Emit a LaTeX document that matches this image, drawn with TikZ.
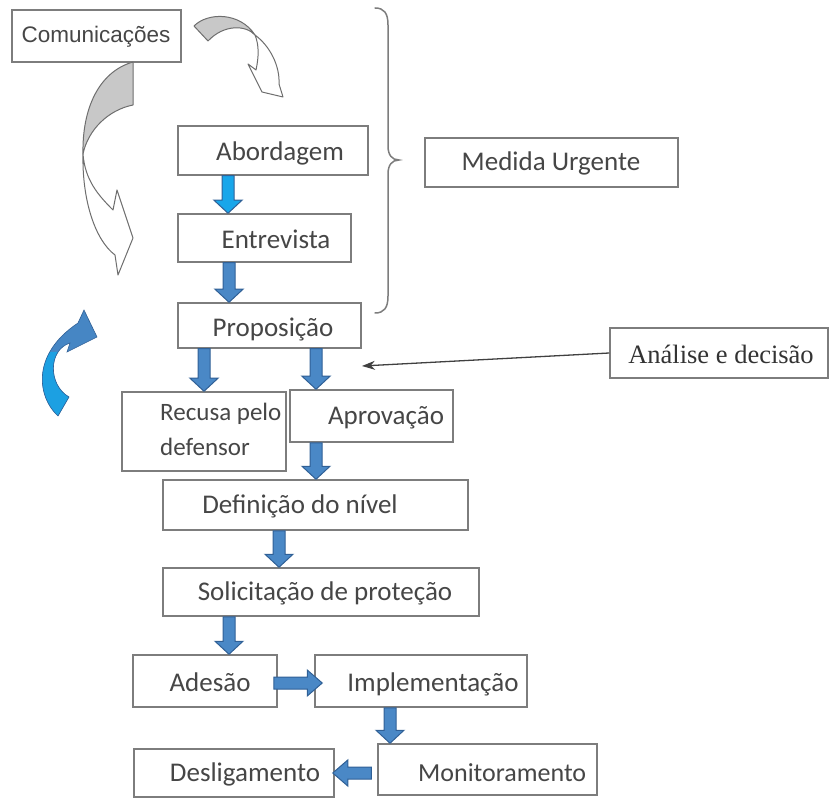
\documentclass[tikz,border=0pt]{standalone}
\usepackage{fontspec}
\setmainfont{Carlito}
\newfontfamily\arialf{Liberation Sans}
\newfontfamily\timesf{Liberation Serif}
\usetikzlibrary{calc,fit,arrows.meta}
\definecolor{bord}{RGB}{125,125,125}
\definecolor{txtc}{RGB}{70,70,70}
\definecolor{blkf}{RGB}{74,136,198}
\definecolor{blkd}{RGB}{48,96,150}
\definecolor{cyanf}{RGB}{24,166,234}
\definecolor{greyf}{RGB}{200,200,200}
\definecolor{curvd}{RGB}{110,110,110}
\definecolor{bluedark}{RGB}{70,134,196}
\definecolor{bluelight}{RGB}{28,160,226}
\tikzset{
  box/.style={draw=bord, line width=1.5pt, fill=white, inner sep=0pt},
  lbl/.style={text=txtc, font=\fontsize{27}{32}\selectfont, inner sep=0pt},
  blk/.style={fill=blkf, draw=blkd, line width=1pt, line join=miter},
  blkc/.style={blk, fill=cyanf},
  curv/.style={draw=curvd, line width=1pt, line join=round},
}
\newcommand\bx[5]{\node[box, fit={(#2,#3)(#4,#5)}] (#1) {};}
\newcommand\vblk[4][blk]{\draw[#1] let \p1=(#3.south), \p2=(#4.north), \p3=(#2,0) in
  (\x3-6pt,\y1) -- (\x3+6pt,\y1) -- (\x3+6pt,\y2+13pt) -- (\x3+14pt,\y2+13pt) -- (\x3,\y2)
  -- (\x3-14pt,\y2+13pt) -- (\x3-6pt,\y2+13pt) -- cycle;}
\newcommand\hblk[5][blk]{\draw[#1] let \p1=(#3), \p2=(#4), \p3=(0,#2), \n1={#5*15} in
  (\x1,\y3-6pt) -- (\x2-\n1 pt,\y3-6pt) -- (\x2-\n1 pt,\y3-13pt) -- (\x2,\y3)
  -- (\x2-\n1 pt,\y3+13pt) -- (\x2-\n1 pt,\y3+6pt) -- (\x1,\y3+6pt) -- cycle;}
\begin{document}
\begin{tikzpicture}[x=1pt,y=-1pt]
\useasboundingbox (0,0) rectangle (830,799);

% boxes
\bx{comun}{12}{10}{181}{62}
\bx{abord}{178}{126}{368}{175}
\bx{entrev}{178}{214}{351}{262}
\bx{propos}{178}{303}{361}{348}
\bx{medida}{425}{138}{678}{187}
\bx{analise}{610}{328}{828}{378}
\bx{recusa}{122}{392}{286}{471}
\bx{aprov}{290}{390}{453}{442}
\bx{defin}{163}{480}{468}{530}
\bx{solic}{163}{568}{479}{616}
\bx{adesao}{133}{655}{277}{707}
\bx{implem}{315}{655}{527}{707}
\bx{monit}{378}{744}{597}{795}
\bx{deslig}{134}{749}{334}{797}

% texts
\node[lbl, font=\arialf\fontsize{22.5}{27}\selectfont] (tcomun) at (96,37) {Comunicações};
\node[lbl] (tabord) at (280,153) {Abordagem};
\node[lbl] (tentrev) at (276,239) {Entrevista};
\node[lbl] (tpropos) at (273,329) {Proposição};
\node[lbl] (tmedida) at (551,163) {Medida Urgente};
\node[lbl, font=\timesf\fontsize{26.5}{30}\selectfont, text=black!80] (tanalise) at (721,354) {Análise e decisão};
\node[lbl, font=\fontsize{25}{35}\selectfont, align=left, anchor=north west] (trecusa) at (160,403) {Recusa pelo\\defensor};
\node[lbl] (taprov) at (386,418) {Aprovação};
\node[lbl] (tdefin) at (300,506) {Definição do nível};
\node[lbl] (tsolic) at (325,593) {Solicitação de proteção};
\node[lbl] (tadesao) at (210,682) {Adesão};
\node[lbl] (timplem) at (433,684) {Implementação};
\node[lbl, font=\fontsize{26}{31}\selectfont, anchor=west] (tmonit) at (418,773) {Monitoramento};
\node[lbl] (tdeslig) at (245,774) {Desligamento};

% block arrows
\vblk[blkc]{228}{abord}{entrev}
\vblk{229}{entrev}{propos}
\vblk{204}{propos}{recusa}
\vblk{316}{propos}{aprov}
\vblk{316}{aprov}{defin}
\vblk{279}{defin}{solic}
\vblk{229}{solic}{adesao}
\vblk{390}{implem}{monit}
\coordinate (h1s) at ($(adesao.east)+(-4,0)$);
\coordinate (h1e) at ($(implem.west)+(8,0)$);
\hblk{683}{h1s}{h1e}{1}
\coordinate (h2s) at ($(monit.west)+(-6,0)$);
\coordinate (h2e) at ($(deslig.east)+(-2,0)$);
\hblk{773}{h2s}{h2e}{-1}

% arrow from Analise
\coordinate (aim) at (362,366);
\draw[line width=1.3pt, black!75, -{Stealth[length=13pt,width=9pt]}] (analise.west) -- (aim);

% brace
\draw[line width=1.5pt, bord, line cap=round]
  (375,8) .. controls (384,8) and (388,13) .. (388,25) -- (388,146)
  .. controls (388,155) and (392,160) .. (399,160)
  .. controls (392,160) and (388,165) .. (388,174) -- (388,296)
  .. controls (388,308) and (384,313) .. (375,313);

% top curved arrow
\filldraw[curv, fill=greyf] (194,26) .. controls (208,12) and (240,12) .. (255,35)
  .. controls (246,25) and (224,24) .. (208,41) -- cycle;
\filldraw[curv, fill=white] (255,35) .. controls (270,46) and (280,66) .. (279,84)
  -- (283,97) -- (262,92) -- (248,64) -- (256,70)
  .. controls (259,56) and (259,45) .. (255,35) -- cycle;

% left big curved arrow
\filldraw[curv, fill=greyf] (133,62) -- (133,105)
  .. controls (108,110) and (88,130) .. (83,154)
  .. controls (82,110) and (98,72) .. (133,62) -- cycle;
\filldraw[curv, fill=white] (83,154) .. controls (82,200) and (95,240) .. (115,255)
  -- (118,275) -- (133,238) -- (117,190) -- (113,210)
  .. controls (98,195) and (85,180) .. (83,154) -- cycle;

% blue curved arrow
\fill[bluedark] (58,416) .. controls (38,398) and (30,355) .. (78,323) -- (84,310)
  -- (97,337) -- (67,352) -- (70,343) .. controls (48,350) and (48,385) .. (69,397) -- cycle;
\begin{scope}
  \clip (0,358) -- (50,352) -- (120,352) -- (120,430) -- (0,430) -- cycle;
  \fill[bluelight] (58,416) .. controls (38,398) and (30,355) .. (78,323) -- (84,310)
    -- (97,337) -- (67,352) -- (70,343) .. controls (48,350) and (48,385) .. (69,397) -- cycle;
\end{scope}
\draw[line width=0.6pt, blkd] (58,416) .. controls (38,398) and (30,355) .. (78,323) -- (84,310)
  -- (97,337) -- (67,352) -- (70,343) .. controls (48,350) and (48,385) .. (69,397) -- cycle;
\end{tikzpicture}
\end{document}
